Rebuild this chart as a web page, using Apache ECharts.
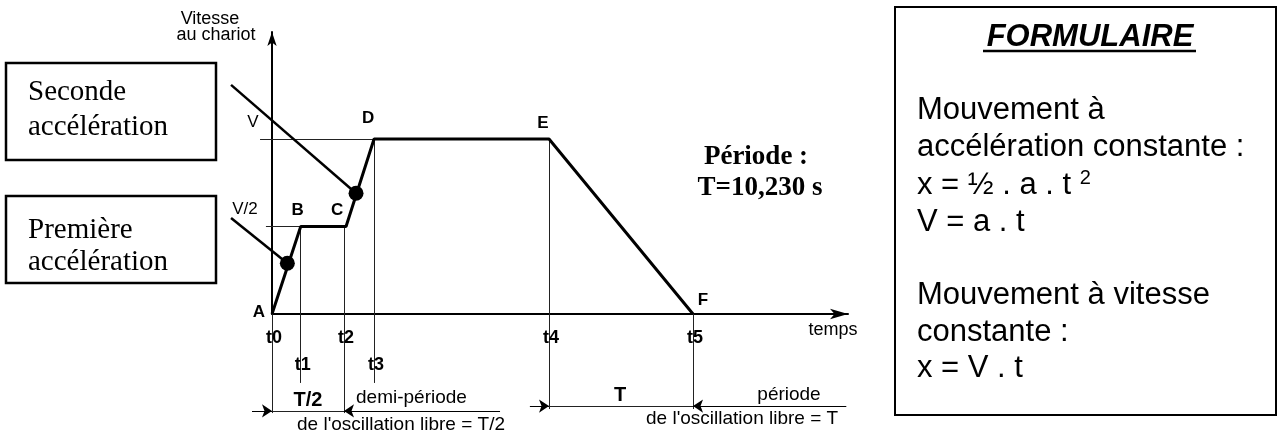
<!DOCTYPE html>
<html>
<head>
<meta charset="utf-8">
<script src="https://cdn.jsdelivr.net/npm/echarts@6/dist/echarts.min.js"></script>
<style>
  html, body { margin: 0; padding: 0; background: #fff; }
  #chart { width: 1278px; height: 436px; }
</style>
</head>
<body>
<div id="chart"></div>
<script>
// time marks (s) and speed levels (in units of V)
const tNames = ["t0", "t1", "t2", "t3", "t4", "t5"];
const tTimes = [0, 2.04, 5.115, 7.25, 19.68, 29.91];
const tLineTop = [0, 0.5, 0.5, 1, 1, 0];
const tLineBottom = [-0.566, -0.394, -0.566, -0.394, -0.543, -0.543];

const pointNames = ["A", "B", "C", "D", "E", "F"];
const pointTimes = [0, 2.04, 5.26, 7.25, 19.68, 29.91];
const pointSpeeds = [0, 0.5, 0.5, 1, 1, 0];

const levelNames = ["V/2", "V"];
const levelSpeeds = [0.5, 1];
const levelLineStart = [-0.43, -0.85];

// the two black dots and where the pointer lines start (near the boxes)
const dotTimes = [1.09, 5.97];
const dotSpeeds = [0.29, 0.69];
const pointerTime = -2.91;
const pointerSpeeds = [0.549, 1.309];

// dimension lines under the axis
const dimSpeeds = [-0.554, -0.526];
const dimFrom = [-1.42, 18.32];
const dimTo = [16.2, 40.8];

// layout: pixel of (t0, 0) and scales
const W = 1278, H = 436;
const originX = 272, originY = 314;
const pxPerSecond = 72 / 5.115;
const pxPerV = 175;

const sans = "'Liberation Sans', Arial, sans-serif";
const serif = "'Liberation Serif', 'Times New Roman', serif";

const letterOffsets = {
  A: [-13, -2], B: [-3, -16], C: [-9, -16], D: [-6, -21], E: [-6, -16], F: [10, -14]
};
const levelOffsets = { "V/2": [-27, -17], "V": [-19, -17] };

const chart = echarts.init(document.getElementById("chart"));

// thin guide lines
const guides = [];
levelSpeeds.forEach((v, i) => {
  const endT = i === 0 ? pointTimes[1] : pointTimes[3];
  guides.push({ coords: [[levelLineStart[i], v], [endT, v]] });
});
tTimes.forEach((t, i) => {
  guides.push({ coords: [[t, tLineTop[i]], [t, tLineBottom[i]]] });
});
// inner parts of the dimension lines
guides.push({ coords: [[tTimes[0], dimSpeeds[0]], [tTimes[2], dimSpeeds[0]]] });
guides.push({ coords: [[tTimes[4], dimSpeeds[1]], [tTimes[5], dimSpeeds[1]]] });

// outer parts, with arrow heads pointing at the marks
const dimArrows = [
  { coords: [[dimFrom[0], dimSpeeds[0]], [tTimes[0], dimSpeeds[0]]] },
  { coords: [[dimTo[0], dimSpeeds[0]], [tTimes[2], dimSpeeds[0]]] },
  { coords: [[dimFrom[1], dimSpeeds[1]], [tTimes[4], dimSpeeds[1]]] },
  { coords: [[dimTo[1], dimSpeeds[1]], [tTimes[5], dimSpeeds[1]]] }
];

const pointers = dotTimes.map((t, i) => ({
  coords: [[pointerTime, pointerSpeeds[i]], [t, dotSpeeds[i]]]
}));

const textLabels = [];
pointNames.forEach((n, i) => {
  textLabels.push({
    name: n, value: [pointTimes[i], pointSpeeds[i]],
    label: { offset: letterOffsets[n], fontSize: 17 }
  });
});
tNames.forEach((n, i) => {
  textLabels.push({
    name: n, value: [tTimes[i], 0],
    label: { offset: [2, i === 1 || i === 3 ? 51 : 24], fontSize: 18 }
  });
});
levelNames.forEach((n, i) => {
  textLabels.push({
    name: n, value: [0, levelSpeeds[i]],
    label: { offset: levelOffsets[n], fontSize: 17, fontWeight: "normal" }
  });
});

const txt = (x, y, text, font, align) => ({
  type: "text", x: x, y: y, silent: true,
  style: { text: text, font: font, fill: "#000", textAlign: align || "left", textVerticalAlign: "middle" }
});
const box = (x, y, w, h, lw) => ({
  type: "rect", silent: true,
  shape: { x: x, y: y, width: w, height: h },
  style: { fill: "none", stroke: "#000", lineWidth: lw }
});

const option = {
  animation: false,
  grid: [
    { left: 0, right: 0, top: 0, bottom: 0, outerBoundsMode: "none" },
    { left: originX, top: 32, width: 848 - originX, height: originY - 32, outerBoundsMode: "none" }
  ],
  xAxis: [
    { gridIndex: 0, type: "value", show: false,
      min: -originX / pxPerSecond, max: (W - originX) / pxPerSecond },
    { gridIndex: 1, type: "value", min: 0, max: 1,
      axisLine: { show: true, onZero: false, symbol: ["none", "arrow"], symbolSize: [8, 18],
        lineStyle: { color: "#000", width: 2 } },
      axisTick: { show: false }, axisLabel: { show: false }, splitLine: { show: false } }
  ],
  yAxis: [
    { gridIndex: 0, type: "value", show: false,
      min: -(H - originY) / pxPerV, max: originY / pxPerV },
    { gridIndex: 1, type: "value", min: 0, max: 1,
      axisLine: { show: true, onZero: false, symbol: ["none", "arrow"], symbolSize: [7, 14],
        lineStyle: { color: "#000", width: 2 } },
      axisTick: { show: false }, axisLabel: { show: false }, splitLine: { show: false } }
  ],
  series: [
    {
      type: "lines", coordinateSystem: "cartesian2d", xAxisIndex: 0, yAxisIndex: 0,
      silent: true, lineStyle: { color: "#222", width: 1, opacity: 1 }, data: guides
    },
    {
      type: "lines", coordinateSystem: "cartesian2d", xAxisIndex: 0, yAxisIndex: 0,
      silent: true, symbol: ["none", "arrow"], symbolSize: 10,
      lineStyle: { color: "#000", width: 1, opacity: 1 }, data: dimArrows
    },
    {
      type: "lines", coordinateSystem: "cartesian2d", xAxisIndex: 0, yAxisIndex: 0,
      silent: true, lineStyle: { color: "#000", width: 2.5, opacity: 1 }, data: pointers
    },
    {
      type: "line", xAxisIndex: 0, yAxisIndex: 0, symbol: "none", silent: true, z: 5,
      lineStyle: { color: "#000", width: 3 },
      data: pointTimes.map((t, i) => [t, pointSpeeds[i]])
    },
    {
      type: "scatter", xAxisIndex: 0, yAxisIndex: 0, symbolSize: 15, silent: true, z: 6,
      itemStyle: { color: "#000", opacity: 1 },
      data: dotTimes.map((t, i) => [t, dotSpeeds[i]])
    },
    {
      type: "scatter", xAxisIndex: 0, yAxisIndex: 0, symbolSize: 1, silent: true, z: 7,
      itemStyle: { color: "rgba(0,0,0,0)", opacity: 1 },
      label: {
        show: true, position: "inside", formatter: "{b}", color: "#000",
        textBorderWidth: 0, fontFamily: sans, fontWeight: "bold"
      },
      data: textLabels
    }
  ],
  graphic: [
    // axis titles
    txt(210, 19, "Vitesse", "18px " + sans, "center"),
    txt(216, 35, "au chariot", "18px " + sans, "center"),
    txt(833, 330, "temps", "18px " + sans, "center"),
    // dimension captions
    txt(308, 400, "T/2", "bold 20px " + sans, "center"),
    txt(356, 398, "demi-période", "19px " + sans),
    txt(297, 425, "de l'oscillation libre = T/2", "19px " + sans),
    txt(620, 395, "T", "bold 20px " + sans, "center"),
    txt(789, 395, "période", "19px " + sans, "center"),
    txt(646, 419, "de l'oscillation libre = T", "19px " + sans),
    // period
    txt(756, 157, "Période :", "bold 27px " + serif, "center"),
    txt(760, 188, "T=10,230 s", "bold 27px " + serif, "center"),
    // left boxes
    box(6, 63, 210, 97, 2.5),
    txt(28, 92, "Seconde", "29px " + serif),
    txt(28, 127, "accélération", "29px " + serif),
    box(6, 196, 210, 87, 2.5),
    txt(28, 230, "Première", "29px " + serif),
    txt(28, 262, "accélération", "29px " + serif),
    // formulaire panel
    box(895, 7, 381, 408, 2),
    txt(1090, 37, "FORMULAIRE", "italic bold 31px " + sans, "center"),
    { type: "line", silent: true, shape: { x1: 983, y1: 51, x2: 1196, y2: 51 },
      style: { stroke: "#000", lineWidth: 2.5 } },
    txt(917, 110, "Mouvement à", "31px " + sans),
    txt(917, 147, "accélération constante :", "31px " + sans),
    {
      type: "text", x: 917, y: 185, silent: true,
      style: {
        text: "{n|x = ½ . a . t }{s|2}", textAlign: "left", textVerticalAlign: "middle", fill: "#000",
        rich: {
          n: { font: "31px " + sans, fill: "#000" },
          s: { font: "20px " + sans, fill: "#000", padding: [0, 0, 14, 0] }
        }
      }
    },
    txt(917, 222, "V = a . t", "31px " + sans),
    txt(917, 295, "Mouvement à vitesse", "31px " + sans),
    txt(917, 332, "constante :", "31px " + sans),
    txt(917, 368, "x = V . t", "31px " + sans)
  ]
};

chart.setOption(option);
</script>
</body>
</html>
